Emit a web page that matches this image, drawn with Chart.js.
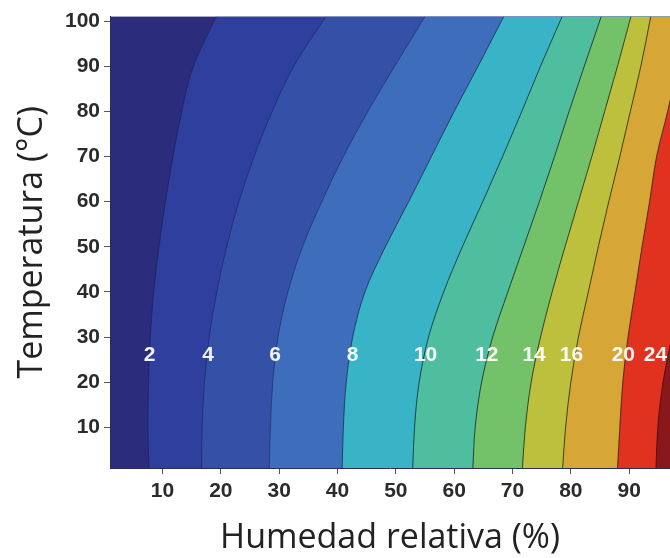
<!DOCTYPE html>
<html lang="es">
<head>
<meta charset="utf-8">
<title>Humedad de equilibrio</title>
<script src="https://cdn.jsdelivr.net/npm/chart.js@4.4.1/dist/chart.umd.min.js"></script>
<style>
  html, body { margin: 0; padding: 0; background: #fff; }
  #grafico { display: block; }
</style>
</head>
<body>
<canvas id="grafico" width="670" height="558"></canvas>
<script>
// Temperaturas (°C) donde se leyó cada isolínea (la última es el borde superior)
const temperaturas = [1, 10, 20, 30, 40, 50, 60, 70, 80, 90, 101];

// Humedad relativa (%) de cada isolínea a esas temperaturas
const curva2  = [7.7, 7.5, 7.6, 7.9, 8.5, 9.4, 10.5, 11.8, 13.3, 15.3, 19.2];
const curva4  = [16.7, 16.8, 17.2, 18.0, 19.3, 21.0, 23.1, 25.7, 28.8, 32.5, 38.0];
const curva6  = [28.3, 28.5, 28.9, 29.8, 31.5, 34.0, 37.3, 41.0, 45.2, 49.8, 55.0];
const curva8  = [40.8, 41.0, 41.5, 42.6, 44.7, 48.2, 52.2, 56.1, 60.0, 64.1, 68.5];
const curva10 = [52.9, 53.2, 54.0, 55.6, 58.2, 61.4, 64.9, 68.3, 71.6, 74.8, 78.5];
const curva12 = [63.2, 63.6, 64.7, 66.6, 69.2, 71.9, 74.6, 77.2, 79.7, 82.3, 85.2];
const curva14 = [71.7, 72.2, 73.2, 74.8, 76.8, 79.0, 81.3, 83.6, 85.8, 88.0, 90.3];
const curva16 = [78.6, 79.1, 80.0, 81.3, 83.0, 84.7, 86.5, 88.4, 90.2, 92.0, 93.7];
const curva20 = [88.0, 88.4, 88.9, 89.8, 91.0, 92.2, 93.5, 94.7, 96.6, 98.3, 100.0];
const curva24 = [94.6, 94.9, 95.8, 97.3, 98.8, null, null, null, null, null, null];

const niveles = [2, 4, 6, 8, 10, 12, 14, 16, 20, 24];
const curvas = [curva2, curva4, curva6, curva8, curva10, curva12, curva14, curva16, curva20, curva24];

// color de la banda que queda a la derecha de cada isolínea
const coloresBanda = ['#2f3f9d', '#3450a7', '#3e6dbb', '#38b4c6', '#4fbe9f', '#73c169',
                      '#bcc03c', '#d6a737', '#e0321f', '#8a1719'];
const colorBandaBase = '#2b2c7c';
const coloresLinea = ['rgba(25,30,90,0.6)', 'rgba(25,35,100,0.6)', 'rgba(25,40,100,0.6)',
                      'rgba(30,50,90,0.85)', 'rgba(25,45,55,0.85)', 'rgba(25,45,40,0.85)',
                      'rgba(30,45,30,0.85)', 'rgba(40,45,20,0.85)', 'rgba(50,35,20,0.85)',
                      'rgba(60,20,15,0.85)'];

// etiquetas de las isolíneas
const etiquetaT = 26;
const etiquetaHR = [7.8, 17.8, 29.3, 42.6, 55.1, 65.6, 73.7, 80.1, 89.0, 94.5];

const HR_MIN = 1, HR_MAX = 97;
const T_MIN = 1, T_MAX = 101;
const ticksX = [10, 20, 30, 40, 50, 60, 70, 80, 90];
const ticksY = [10, 20, 30, 40, 50, 60, 70, 80, 90, 100];

// cada isolínea rellena hacia la derecha; las de nivel alto se pintan encima
const datasets = niveles.map((nivel, i) => ({
  label: String(nivel),
  data: temperaturas.map((t, j) => ({ x: curvas[i][j], y: t })),
  fill: { value: HR_MAX },
  backgroundColor: coloresBanda[i],
  borderColor: coloresLinea[i],
  borderWidth: 1,
  pointRadius: 0,
  cubicInterpolationMode: 'monotone'
})).reverse();

const fondoArea = {
  id: 'fondoArea',
  beforeDraw(chart) {
    const { ctx, chartArea: a } = chart;
    ctx.save();
    ctx.fillStyle = colorBandaBase;
    ctx.fillRect(a.left, a.top, a.right - a.left, a.bottom - a.top);
    ctx.restore();
  }
};

const etiquetas = {
  id: 'etiquetas',
  afterDatasetsDraw(chart) {
    const { ctx, scales } = chart;
    ctx.save();
    ctx.font = 'bold 21px "Liberation Sans", Arial, sans-serif';
    ctx.textAlign = 'center';
    ctx.textBaseline = 'middle';
    ctx.fillStyle = 'rgba(255,255,255,0.93)';
    niveles.forEach((nivel, i) => {
      ctx.fillText(String(nivel), scales.x.getPixelForValue(etiquetaHR[i]), scales.y.getPixelForValue(etiquetaT));
    });
    ctx.restore();
  }
};

const fuenteTicks = { family: '"Liberation Sans", Arial, sans-serif', size: 21, weight: 'bold' };
const fuenteTitulo = { family: '"Open Sans", sans-serif', size: 34 };

new Chart(document.getElementById('grafico'), {
  type: 'line',
  data: { datasets },
  options: {
    indexAxis: 'y',
    responsive: false,
    animation: false,
    events: [],
    layout: { padding: 0 },
    plugins: { legend: { display: false }, tooltip: { enabled: false }, filler: { propagate: false } },
    scales: {
      x: {
        type: 'linear',
        position: 'bottom',
        min: HR_MIN,
        max: HR_MAX,
        afterBuildTicks: s => { s.ticks = ticksX.map(v => ({ value: v })); },
        afterFit: s => { s.height = 90; },
        grid: { drawOnChartArea: false, drawTicks: true, tickLength: 6, color: '#555' },
        border: { display: true, color: '#2a2f55', width: 1 },
        ticks: { font: fuenteTicks, color: '#2b2b2b', padding: 5, maxRotation: 0 },
        title: { display: true, text: 'Humedad relativa (%)', font: fuenteTitulo, color: '#222', padding: { top: 0, bottom: -1 } }
      },
      y: {
        type: 'linear',
        position: 'left',
        min: T_MIN,
        max: T_MAX,
        afterBuildTicks: s => { s.ticks = ticksY.map(v => ({ value: v })); },
        afterFit: s => { s.width = 110; },
        grid: { drawOnChartArea: false, drawTicks: true, tickLength: 6, color: '#555' },
        border: { display: true, color: '#2a2f55', width: 1 },
        ticks: { font: fuenteTicks, color: '#2b2b2b', padding: 4 },
        title: { display: true, text: 'Temperatura (°C)', font: fuenteTitulo, color: '#222', padding: { top: 12, bottom: 0 } }
      }
    }
  },
  plugins: [fondoArea, etiquetas]
});
</script>
</body>
</html>
